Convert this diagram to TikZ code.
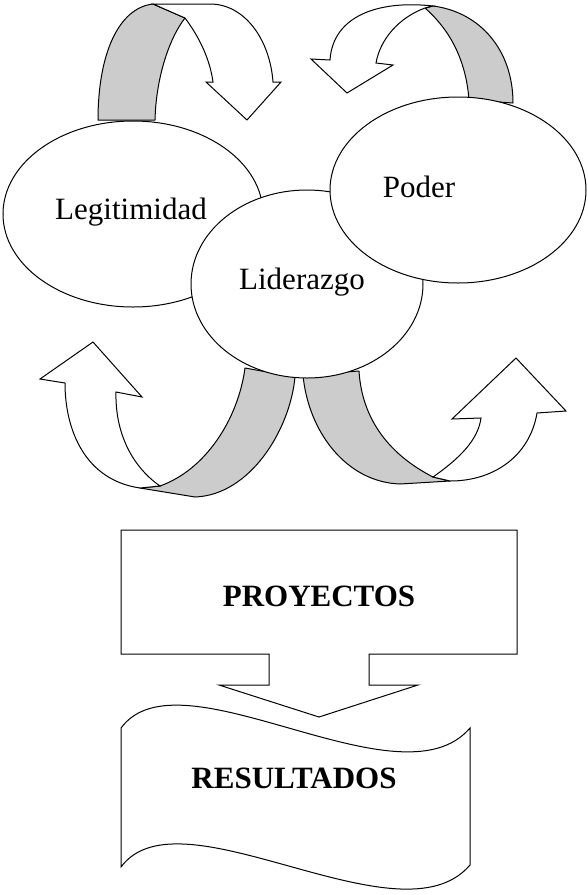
\documentclass[tikz,border=0pt]{standalone}
\usepackage{fontspec}
\setmainfont{Liberation Serif}
\usetikzlibrary{shapes.geometric}
\definecolor{bandgray}{HTML}{CCCCCC}
\tikzset{
  oval/.style={ellipse, draw=black, fill=white, line width=1pt, inner sep=0pt},
  lbl/.style={anchor=base, inner sep=0pt, font=\fontsize{31}{37}\selectfont},
  blbl/.style={anchor=base, inner sep=0pt, font=\fontsize{31}{37}\selectfont\bfseries},
  band/.style={draw=black, fill=bandgray, line width=1pt, line join=round},
  arrowbody/.style={draw=black, fill=white, line width=1pt, line join=miter},
  boxshape/.style={draw=black, fill=white, line width=1pt, line join=miter}
}
\begin{document}
\begin{tikzpicture}[x=1pt,y=-1pt]
\useasboundingbox (0,0) rectangle (587,895);

% top-left curved arrow
\draw[band] (98,120) .. controls (98,55) and (118,8) .. (153,4) -- (185,18)
  .. controls (168,40) and (156,80) .. (155,120) -- cycle;
\draw[arrowbody] (153,4) -- (210,4) .. controls (245,4) and (270,40) .. (273,82)
  -- (281,82) -- (247,120) -- (206,82) -- (213,82)
  .. controls (210,60) and (200,38) .. (185,18) -- cycle;

% top-right curved arrow
\draw[band] (469,100) -- (513,103) .. controls (513,50) and (480,12) .. (433,6)
  -- (425,8) .. controls (450,30) and (466,60) .. (469,100) -- cycle;
\draw[arrowbody] (433,6) .. controls (380,0) and (333,15) .. (330,60)
  -- (311,59) -- (347,93) -- (393,65) -- (376,63)
  .. controls (380,40) and (398,18) .. (425,8) -- cycle;

% bottom-left curved arrow
\draw[band] (245,368) -- (295,377) .. controls (290,430) and (250,495) .. (195,497)
  -- (140,488) -- (160,486) .. controls (205,470) and (238,420) .. (245,368) -- cycle;
\draw[arrowbody] (140,488) .. controls (85,480) and (65,430) .. (65,383)
  -- (40,379) -- (93,342) -- (142,397) -- (116,392)
  .. controls (115,430) and (130,465) .. (160,486) -- cycle;

% bottom-right curved arrow
\draw[band] (303,375) -- (359,371) .. controls (362,420) and (390,455) .. (433,477)
  -- (450,481) -- (400,484) .. controls (345,482) and (308,430) .. (303,375) -- cycle;
\draw[arrowbody] (433,477) .. controls (460,458) and (478,440) .. (481,418)
  -- (452,419) -- (516,358) -- (566,411) -- (537,413)
  .. controls (530,455) and (495,481) .. (450,481) -- cycle;

% ellipses
\node[oval, minimum width=260pt, minimum height=186pt] (leg) at (133,214) {};
\node[oval, minimum width=232pt, minimum height=188pt] (lid) at (307,284) {};
\node[oval, minimum width=256pt, minimum height=186pt] (pod) at (458,190) {};

\node[lbl] (legt) at (131,219) {Legitimidad};
\node[lbl] (lidt) at (302,289) {Liderazgo};
\node[lbl] (podt) at (419,197) {Poder};

% PROYECTOS callout
\draw[boxshape] (121,530) -- (517,530) -- (517,654) -- (369,654) -- (369,685)
  -- (418,685) -- (319,717) -- (219,685) -- (269,685) -- (269,654) -- (121,654) -- cycle;
\node[blbl] (proy) at (319,606) {PROYECTOS};

% RESULTADOS wave
\draw[boxshape] (121,728) .. controls (180,648) and (400,810) .. (470,728)
  -- (470,865) .. controls (400,947) and (180,787) .. (121,867) -- cycle;
\node[blbl] (res) at (294,788) {RESULTADOS};
\end{tikzpicture}
\end{document}
